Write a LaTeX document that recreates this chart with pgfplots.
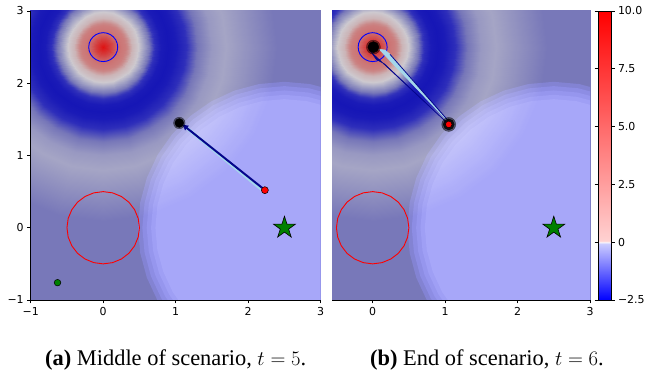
\documentclass[border=0pt]{standalone}
\usepackage{fontspec}
\setmainfont{Liberation Serif}
\newfontfamily\dejavu{DejaVu Sans}
\usepackage{pgfplots}
\usepackage{pgfplotstable}
\pgfplotsset{compat=1.18}
\usetikzlibrary{arrows.meta}
\definecolor{slate}{RGB}{120,120,185}
\definecolor{mplgreen}{RGB}{0,128,0}
\definecolor{navyq}{RGB}{5,5,140}
\definecolor{lblue}{RGB}{165,215,235}
\definecolor{scr}{RGB}{20,20,94}
\pgfplotsset{
  colormap={muted}{rgb255(0cm)=(22,22,182) rgb255(5cm)=(45,45,186) rgb255(12cm)=(120,120,185) rgb255(19cm)=(165,165,197) rgb255(25cm)=(205,201,207) rgb255(35cm)=(204,178,180) rgb255(51cm)=(203,135,135) rgb255(63cm)=(204,118,118) rgb255(90cm)=(212,60,60) rgb255(125cm)=(222,18,18)},
  colormap={cbar}{rgb255(0cm)=(0,0,255) rgb255(24.5cm)=(205,205,255) rgb255(25cm)=(255,255,255) rgb255(25.5cm)=(255,210,210) rgb255(125cm)=(255,0,0)},
  field/.style={anchor=south west, scale only axis, height=289bp, ymin=-1, ymax=3,
    point meta min=-2.5, point meta max=10, colormap name=cbar, axis on top,
    tick align=outside, major tick length=3.5bp, tick style={black, line width=0.7bp},
    tick pos=left, axis x line*=bottom, axis y line*=left, axis line style={line width=0.7bp},
    tick label style={font=\dejavu\fontsize{11}{13}\selectfont}},
  goal/.style={fill=scr, draw=none, blend mode=screen},
}
\pgfdeclareplotmark{fstar}{%
  \pgfpathmoveto{\pgfqpoint{0bp}{11.5bp}}%
  \pgfpathlineto{\pgfqpoint{-2.58bp}{3.55bp}}%
  \pgfpathlineto{\pgfqpoint{-10.94bp}{3.55bp}}%
  \pgfpathlineto{\pgfqpoint{-4.18bp}{-1.36bp}}%
  \pgfpathlineto{\pgfqpoint{-6.76bp}{-9.30bp}}%
  \pgfpathlineto{\pgfqpoint{0bp}{-4.39bp}}%
  \pgfpathlineto{\pgfqpoint{6.76bp}{-9.30bp}}%
  \pgfpathlineto{\pgfqpoint{4.18bp}{-1.36bp}}%
  \pgfpathlineto{\pgfqpoint{10.94bp}{3.55bp}}%
  \pgfpathlineto{\pgfqpoint{2.58bp}{3.55bp}}%
  \pgfpathclose\pgfusepathqfillstroke}

% potential field around the obstacle at (0,2.5): rings of radius 0 ... 5, 24 sectors
\pgfplotstableread{
x y v
0 2.5 10
0 2.5 10
0 2.5 10
0 2.5 10
0 2.5 10
0 2.5 10
0 2.5 10
0 2.5 10
0 2.5 10
0 2.5 10
0 2.5 10
0 2.5 10
0 2.5 10
0 2.5 10
0 2.5 10
0 2.5 10
0 2.5 10
0 2.5 10
0 2.5 10
0 2.5 10
0 2.5 10
0 2.5 10
0 2.5 10
0 2.5 10
0 2.5 10
.1 2.5 6.5
.097 2.526 6.5
.087 2.55 6.5
.071 2.571 6.5
.05 2.587 6.5
.026 2.597 6.5
0 2.6 6.5
-.026 2.597 6.5
-.05 2.587 6.5
-.071 2.571 6.5
-.087 2.55 6.5
-.097 2.526 6.5
-.1 2.5 6.5
-.097 2.474 6.5
-.087 2.45 6.5
-.071 2.429 6.5
-.05 2.413 6.5
-.026 2.403 6.5
0 2.4 6.5
.026 2.403 6.5
.05 2.413 6.5
.071 2.429 6.5
.087 2.45 6.5
.097 2.474 6.5
.1 2.5 6.5
.2 2.5 4.2
.193 2.552 4.2
.173 2.6 4.2
.141 2.641 4.2
.1 2.673 4.2
.052 2.693 4.2
0 2.7 4.2
-.052 2.693 4.2
-.1 2.673 4.2
-.141 2.641 4.2
-.173 2.6 4.2
-.193 2.552 4.2
-.2 2.5 4.2
-.193 2.448 4.2
-.173 2.4 4.2
-.141 2.359 4.2
-.1 2.327 4.2
-.052 2.307 4.2
0 2.3 4.2
.052 2.307 4.2
.1 2.327 4.2
.141 2.359 4.2
.173 2.4 4.2
.193 2.448 4.2
.2 2.5 4.2
.3 2.5 3.3
.29 2.578 3.3
.26 2.65 3.3
.212 2.712 3.3
.15 2.76 3.3
.078 2.79 3.3
0 2.8 3.3
-.078 2.79 3.3
-.15 2.76 3.3
-.212 2.712 3.3
-.26 2.65 3.3
-.29 2.578 3.3
-.3 2.5 3.3
-.29 2.422 3.3
-.26 2.35 3.3
-.212 2.288 3.3
-.15 2.24 3.3
-.078 2.21 3.3
0 2.2 3.3
.078 2.21 3.3
.15 2.24 3.3
.212 2.288 3.3
.26 2.35 3.3
.29 2.422 3.3
.3 2.5 3.3
.4 2.5 0.9
.386 2.604 0.9
.346 2.7 0.9
.283 2.783 0.9
.2 2.846 0.9
.104 2.886 0.9
0 2.9 0.9
-.104 2.886 0.9
-.2 2.846 0.9
-.283 2.783 0.9
-.346 2.7 0.9
-.386 2.604 0.9
-.4 2.5 0.9
-.386 2.396 0.9
-.346 2.3 0.9
-.283 2.217 0.9
-.2 2.154 0.9
-.104 2.114 0.9
0 2.1 0.9
.104 2.114 0.9
.2 2.154 0.9
.283 2.217 0.9
.346 2.3 0.9
.386 2.396 0.9
.4 2.5 0.9
.5 2.5 -0.1
.483 2.629 -0.1
.433 2.75 -0.1
.354 2.854 -0.1
.25 2.933 -0.1
.129 2.983 -0.1
0 3 -0.1
-.129 2.983 -0.1
-.25 2.933 -0.1
-.354 2.854 -0.1
-.433 2.75 -0.1
-.483 2.629 -0.1
-.5 2.5 -0.1
-.483 2.371 -0.1
-.433 2.25 -0.1
-.354 2.146 -0.1
-.25 2.067 -0.1
-.129 2.017 -0.1
0 2 -0.1
.129 2.017 -0.1
.25 2.067 -0.1
.354 2.146 -0.1
.433 2.25 -0.1
.483 2.371 -0.1
.5 2.5 -0.1
.6 2.5 -1.0
.58 2.655 -1.0
.52 2.8 -1.0
.424 2.924 -1.0
.3 3.02 -1.0
.155 3.08 -1.0
0 3.1 -1.0
-.155 3.08 -1.0
-.3 3.02 -1.0
-.424 2.924 -1.0
-.52 2.8 -1.0
-.58 2.655 -1.0
-.6 2.5 -1.0
-.58 2.345 -1.0
-.52 2.2 -1.0
-.424 2.076 -1.0
-.3 1.98 -1.0
-.155 1.92 -1.0
0 1.9 -1.0
.155 1.92 -1.0
.3 1.98 -1.0
.424 2.076 -1.0
.52 2.2 -1.0
.58 2.345 -1.0
.6 2.5 -1.0
.7 2.5 -1.9
.676 2.681 -1.9
.606 2.85 -1.9
.495 2.995 -1.9
.35 3.106 -1.9
.181 3.176 -1.9
0 3.2 -1.9
-.181 3.176 -1.9
-.35 3.106 -1.9
-.495 2.995 -1.9
-.606 2.85 -1.9
-.676 2.681 -1.9
-.7 2.5 -1.9
-.676 2.319 -1.9
-.606 2.15 -1.9
-.495 2.005 -1.9
-.35 1.894 -1.9
-.181 1.824 -1.9
0 1.8 -1.9
.181 1.824 -1.9
.35 1.894 -1.9
.495 2.005 -1.9
.606 2.15 -1.9
.676 2.319 -1.9
.7 2.5 -1.9
.8 2.5 -2.4
.773 2.707 -2.4
.693 2.9 -2.4
.566 3.066 -2.4
.4 3.193 -2.4
.207 3.273 -2.4
0 3.3 -2.4
-.207 3.273 -2.4
-.4 3.193 -2.4
-.566 3.066 -2.4
-.693 2.9 -2.4
-.773 2.707 -2.4
-.8 2.5 -2.4
-.773 2.293 -2.4
-.693 2.1 -2.4
-.566 1.934 -2.4
-.4 1.807 -2.4
-.207 1.727 -2.4
0 1.7 -2.4
.207 1.727 -2.4
.4 1.807 -2.4
.566 1.934 -2.4
.693 2.1 -2.4
.773 2.293 -2.4
.8 2.5 -2.4
.9 2.5 -2.5
.869 2.733 -2.5
.779 2.95 -2.5
.636 3.136 -2.5
.45 3.279 -2.5
.233 3.369 -2.5
0 3.4 -2.5
-.233 3.369 -2.5
-.45 3.279 -2.5
-.636 3.136 -2.5
-.779 2.95 -2.5
-.869 2.733 -2.5
-.9 2.5 -2.5
-.869 2.267 -2.5
-.779 2.05 -2.5
-.636 1.864 -2.5
-.45 1.721 -2.5
-.233 1.631 -2.5
0 1.6 -2.5
.233 1.631 -2.5
.45 1.721 -2.5
.636 1.864 -2.5
.779 2.05 -2.5
.869 2.267 -2.5
.9 2.5 -2.5
1 2.5 -2.4
.966 2.759 -2.4
.866 3 -2.4
.707 3.207 -2.4
.5 3.366 -2.4
.259 3.466 -2.4
0 3.5 -2.4
-.259 3.466 -2.4
-.5 3.366 -2.4
-.707 3.207 -2.4
-.866 3 -2.4
-.966 2.759 -2.4
-1 2.5 -2.4
-.966 2.241 -2.4
-.866 2 -2.4
-.707 1.793 -2.4
-.5 1.634 -2.4
-.259 1.534 -2.4
0 1.5 -2.4
.259 1.534 -2.4
.5 1.634 -2.4
.707 1.793 -2.4
.866 2 -2.4
.966 2.241 -2.4
1 2.5 -2.4
1.15 2.5 -1.95
1.111 2.798 -1.95
.996 3.075 -1.95
.813 3.313 -1.95
.575 3.496 -1.95
.298 3.611 -1.95
0 3.65 -1.95
-.298 3.611 -1.95
-.575 3.496 -1.95
-.813 3.313 -1.95
-.996 3.075 -1.95
-1.111 2.798 -1.95
-1.15 2.5 -1.95
-1.111 2.202 -1.95
-.996 1.925 -1.95
-.813 1.687 -1.95
-.575 1.504 -1.95
-.298 1.389 -1.95
0 1.35 -1.95
.298 1.389 -1.95
.575 1.504 -1.95
.813 1.687 -1.95
.996 1.925 -1.95
1.111 2.202 -1.95
1.15 2.5 -1.95
1.3 2.5 -1.35
1.256 2.836 -1.35
1.126 3.15 -1.35
.919 3.419 -1.35
.65 3.626 -1.35
.336 3.756 -1.35
0 3.8 -1.35
-.336 3.756 -1.35
-.65 3.626 -1.35
-.919 3.419 -1.35
-1.126 3.15 -1.35
-1.256 2.836 -1.35
-1.3 2.5 -1.35
-1.256 2.164 -1.35
-1.126 1.85 -1.35
-.919 1.581 -1.35
-.65 1.374 -1.35
-.336 1.244 -1.35
0 1.2 -1.35
.336 1.244 -1.35
.65 1.374 -1.35
.919 1.581 -1.35
1.126 1.85 -1.35
1.256 2.164 -1.35
1.3 2.5 -1.35
1.5 2.5 -0.8
1.449 2.888 -0.8
1.299 3.25 -0.8
1.061 3.561 -0.8
.75 3.799 -0.8
.388 3.949 -0.8
0 4 -0.8
-.388 3.949 -0.8
-.75 3.799 -0.8
-1.061 3.561 -0.8
-1.299 3.25 -0.8
-1.449 2.888 -0.8
-1.5 2.5 -0.8
-1.449 2.112 -0.8
-1.299 1.75 -0.8
-1.061 1.439 -0.8
-.75 1.201 -0.8
-.388 1.051 -0.8
0 1 -0.8
.388 1.051 -0.8
.75 1.201 -0.8
1.061 1.439 -0.8
1.299 1.75 -0.8
1.449 2.112 -0.8
1.5 2.5 -0.8
1.7 2.5 -0.6
1.642 2.94 -0.6
1.472 3.35 -0.6
1.202 3.702 -0.6
.85 3.972 -0.6
.44 4.142 -0.6
0 4.2 -0.6
-.44 4.142 -0.6
-.85 3.972 -0.6
-1.202 3.702 -0.6
-1.472 3.35 -0.6
-1.642 2.94 -0.6
-1.7 2.5 -0.6
-1.642 2.06 -0.6
-1.472 1.65 -0.6
-1.202 1.298 -0.6
-.85 1.028 -0.6
-.44 .858 -0.6
0 .8 -0.6
.44 .858 -0.6
.85 1.028 -0.6
1.202 1.298 -0.6
1.472 1.65 -0.6
1.642 2.06 -0.6
1.7 2.5 -0.6
2 2.5 -0.9
1.932 3.018 -0.9
1.732 3.5 -0.9
1.414 3.914 -0.9
1 4.232 -0.9
.518 4.432 -0.9
0 4.5 -0.9
-.518 4.432 -0.9
-1 4.232 -0.9
-1.414 3.914 -0.9
-1.732 3.5 -0.9
-1.932 3.018 -0.9
-2 2.5 -0.9
-1.932 1.982 -0.9
-1.732 1.5 -0.9
-1.414 1.086 -0.9
-1 .768 -0.9
-.518 .568 -0.9
0 .5 -0.9
.518 .568 -0.9
1 .768 -0.9
1.414 1.086 -0.9
1.732 1.5 -0.9
1.932 1.982 -0.9
2 2.5 -0.9
2.4 2.5 -1.3
2.318 3.121 -1.3
2.079 3.7 -1.3
1.697 4.197 -1.3
1.2 4.579 -1.3
.621 4.818 -1.3
0 4.9 -1.3
-.621 4.818 -1.3
-1.2 4.579 -1.3
-1.697 4.197 -1.3
-2.079 3.7 -1.3
-2.318 3.121 -1.3
-2.4 2.5 -1.3
-2.318 1.879 -1.3
-2.079 1.3 -1.3
-1.697 .803 -1.3
-1.2 .421 -1.3
-.621 .182 -1.3
0 .1 -1.3
.621 .182 -1.3
1.2 .421 -1.3
1.697 .803 -1.3
2.079 1.3 -1.3
2.318 1.879 -1.3
2.4 2.5 -1.3
5 2.5 -1.3
4.83 3.794 -1.3
4.33 5 -1.3
3.536 6.036 -1.3
2.5 6.83 -1.3
1.294 7.33 -1.3
0 7.5 -1.3
-1.294 7.33 -1.3
-2.5 6.83 -1.3
-3.536 6.036 -1.3
-4.33 5 -1.3
-4.83 3.794 -1.3
-5 2.5 -1.3
-4.83 1.206 -1.3
-4.33 0 -1.3
-3.536 -1.036 -1.3
-2.5 -1.83 -1.3
-1.294 -2.33 -1.3
0 -2.5 -1.3
1.294 -2.33 -1.3
2.5 -1.83 -1.3
3.536 -1.036 -1.3
4.33 0 -1.3
4.83 1.206 -1.3
5 2.5 -1.3
}\fieldtab

\newcommand{\fieldlayers}{%
  \addplot[fill=slate, draw=none] coordinates {(-1.2,-1.2) (3.2,-1.2) (3.2,3.2) (-1.2,3.2)} --cycle;
  \addplot[surf, shader=interp, colormap name=muted, mesh/cols=25, point meta=\thisrow{v}] table[x=x, y=y] {\fieldtab};
  % goal region around (2.5,0): five nested screen layers for a soft edge
  \addplot[goal] coordinates {(3.51,1.749) (3.191,1.898) (2.851,1.989) (2.5,2.02) (2.149,1.989) (1.809,1.898) (1.49,1.749) (1.202,1.547) (0.953,1.298) (0.751,1.01) (0.602,0.691) (0.511,0.351) (0.48,0) (0.511,-0.351) (0.602,-0.691) (0.751,-1.01) (0.953,-1.298) (1.202,-1.547) (1.49,-1.749) (5,-3) (5,3)} --cycle;
  \addplot[goal] coordinates {(3.48,1.697) (3.17,1.842) (2.84,1.93) (2.5,1.96) (2.16,1.93) (1.83,1.842) (1.52,1.697) (1.24,1.501) (0.999,1.26) (0.803,0.98) (0.658,0.67) (0.57,0.34) (0.54,0) (0.57,-0.34) (0.658,-0.67) (0.803,-0.98) (0.999,-1.26) (1.24,-1.501) (1.52,-1.697) (5,-3) (5,3)} --cycle;
  \addplot[goal] coordinates {(3.45,1.645) (3.15,1.785) (2.83,1.871) (2.5,1.9) (2.17,1.871) (1.85,1.785) (1.55,1.645) (1.279,1.455) (1.045,1.221) (0.855,0.95) (0.715,0.65) (0.629,0.33) (0.6,0) (0.629,-0.33) (0.715,-0.65) (0.855,-0.95) (1.045,-1.221) (1.279,-1.455) (1.55,-1.645) (5,-3) (5,3)} --cycle;
  \addplot[goal] coordinates {(3.42,1.593) (3.129,1.729) (2.819,1.812) (2.5,1.84) (2.181,1.812) (1.871,1.729) (1.58,1.593) (1.317,1.409) (1.091,1.183) (0.907,0.92) (0.771,0.629) (0.688,0.319) (0.66,0) (0.688,-0.319) (0.771,-0.629) (0.907,-0.92) (1.091,-1.183) (1.317,-1.409) (1.58,-1.593) (5,-3) (5,3)} --cycle;
  \addplot[goal] coordinates {(3.39,1.541) (3.109,1.673) (2.809,1.753) (2.5,1.78) (2.191,1.753) (1.891,1.673) (1.61,1.541) (1.356,1.363) (1.137,1.144) (0.959,0.89) (0.829,0.609) (0.747,0.309) (0.72,0) (0.747,-0.309) (0.829,-0.609) (0.959,-0.89) (1.137,-1.144) (1.356,-1.363) (1.61,-1.541) (5,-3) (5,3)} --cycle;
  % obstacle circle (red) at (0,0), r = 0.5
  \addplot[red, line width=0.9bp] coordinates {(.5,0) (.483,.129) (.433,.25) (.354,.354) (.25,.433) (.129,.483) (0,.5) (-.129,.483) (-.25,.433) (-.354,.354) (-.433,.25) (-.483,.129) (-.5,0) (-.483,-.129) (-.433,-.25) (-.354,-.354) (-.25,-.433) (-.129,-.483) (0,-.5) (.129,-.483) (.25,-.433) (.354,-.354) (.433,-.25) (.483,-.129) (.5,0)};
}
\newcommand{\bluecircle}{%
  \addplot[blue, line width=0.9bp] coordinates {(.2,2.5) (.193,2.552) (.173,2.6) (.141,2.641) (.1,2.673) (.052,2.693) (0,2.7) (-.052,2.693) (-.1,2.673) (-.141,2.641) (-.173,2.6) (-.193,2.552) (-.2,2.5) (-.193,2.448) (-.173,2.4) (-.141,2.359) (-.1,2.327) (-.052,2.307) (0,2.3) (.052,2.307) (.1,2.327) (.141,2.359) (.173,2.4) (.193,2.448) (.2,2.5)};
}

\begin{document}
\begin{tikzpicture}
\useasboundingbox (0,0) rectangle (650bp,373bp);

% ---------- panel (a) ----------
\begin{axis}[field, at={(30.7bp,73bp)}, width=290bp, xmin=-1, xmax=3,
  xtick={-1,0,1,2,3}, xticklabels={−1,0,1,2,3},
  ytick={-1,0,1,2,3}, yticklabels={−1,0,1,2,3}]
\fieldlayers
\bluecircle
\addplot[only marks, mark=*, mark size=3.3bp, mark options={fill=mplgreen, draw=black, line width=0.5bp}] coordinates {(-0.63,-0.76)};
\addplot[only marks, mark=*, mark size=5.8bp, mark options={fill=black, draw=none, opacity=0.45}] coordinates {(1.05,1.45)};
\addplot[only marks, mark=*, mark size=4.4bp, mark options={fill=black, draw=none}] coordinates {(1.05,1.45)};
\addplot[lblue, line width=3.2bp] coordinates {(2.21,0.51) (1.14,1.39)};
\addplot[navyq, line width=2bp, -{Latex[length=6.5bp, width=6.5bp]}] coordinates {(2.22,0.53) (1.085,1.435)};
\addplot[only marks, mark=*, mark size=3.5bp, mark options={fill=red, draw=black, line width=0.5bp}] coordinates {(2.23,0.52)};
\addplot[only marks, mark=fstar, mark options={fill=mplgreen, draw=black, line width=0.6bp}] coordinates {(2.5,0)};
\end{axis}

% ---------- panel (b) ----------
\begin{axis}[field, at={(332.3bp,73bp)}, width=257.7bp, xmin=-0.557, xmax=3,
  xtick={0,1,2,3}, xticklabels={0,1,2,3}, ytick=\empty, axis y line=none]
\fieldlayers
\addplot[only marks, mark=*, mark size=7bp, mark options={fill=black, draw=none, opacity=0.45}] coordinates {(0.01,2.5)};
\addplot[only marks, mark=*, mark size=5.5bp, mark options={fill=black, draw=none}] coordinates {(0.01,2.5)};
\bluecircle
\addplot[fill=navyq, draw=navyq, line width=0.6bp] coordinates {(1.05,1.43) (-0.02,2.43) (0.05,2.33) (0.16,2.27)} --cycle;
\addplot[fill=lblue, draw=lblue, line width=0.6bp] coordinates {(1.06,1.45) (0.09,2.47) (0.17,2.46) (0.24,2.40)} --cycle;
\addplot[navyq, line width=0.8bp] coordinates {(1.07,1.45) (0.24,2.40)};
\addplot[only marks, mark=*, mark size=7bp, mark options={fill=black, draw=none, opacity=0.5}] coordinates {(1.05,1.43)};
\addplot[only marks, mark=*, mark size=5.5bp, mark options={fill=black, draw=none, opacity=0.8}] coordinates {(1.05,1.43)};
\addplot[only marks, mark=*, mark size=3.3bp, mark options={fill=red, draw=black, line width=0.5bp}] coordinates {(1.05,1.43)};
\addplot[only marks, mark=fstar, mark options={fill=mplgreen, draw=black, line width=0.6bp}] coordinates {(2.5,0)};
\end{axis}

% ---------- colorbar ----------
\begin{axis}[at={(598bp,73bp)}, anchor=south west, hide axis, scale only axis,
  width=13bp, height=289bp, xmin=0, xmax=1, ymin=0, ymax=1,
  colormap name=cbar, point meta min=-2.5, point meta max=10,
  colorbar, colorbar shift/.style={xshift=0pt},
  colorbar style={at={(parent axis.north west)}, anchor=north west,
    scale only axis, width=13bp, height=289bp,
    ytick={-2.5,0,2.5,5,7.5,10}, yticklabels={−2.5,0,2.5,5.0,7.5,10.0},
    tick align=outside, major tick length=3.5bp, tick style={black, line width=0.7bp},
    axis line style={line width=0.6bp},
    yticklabel style={font=\dejavu\fontsize{11}{13}\selectfont}}]
\addplot[draw=none] coordinates {(0,0)};
\end{axis}

\node[anchor=base] at (175.7bp,8bp) {\fontsize{22.5}{26}\selectfont\textbf{(a)} Middle of scenario, $t=5$.};
\node[anchor=base] at (487bp,8bp) {\fontsize{22.5}{26}\selectfont\textbf{(b)} End of scenario, $t=6$.};
\end{tikzpicture}
\end{document}
